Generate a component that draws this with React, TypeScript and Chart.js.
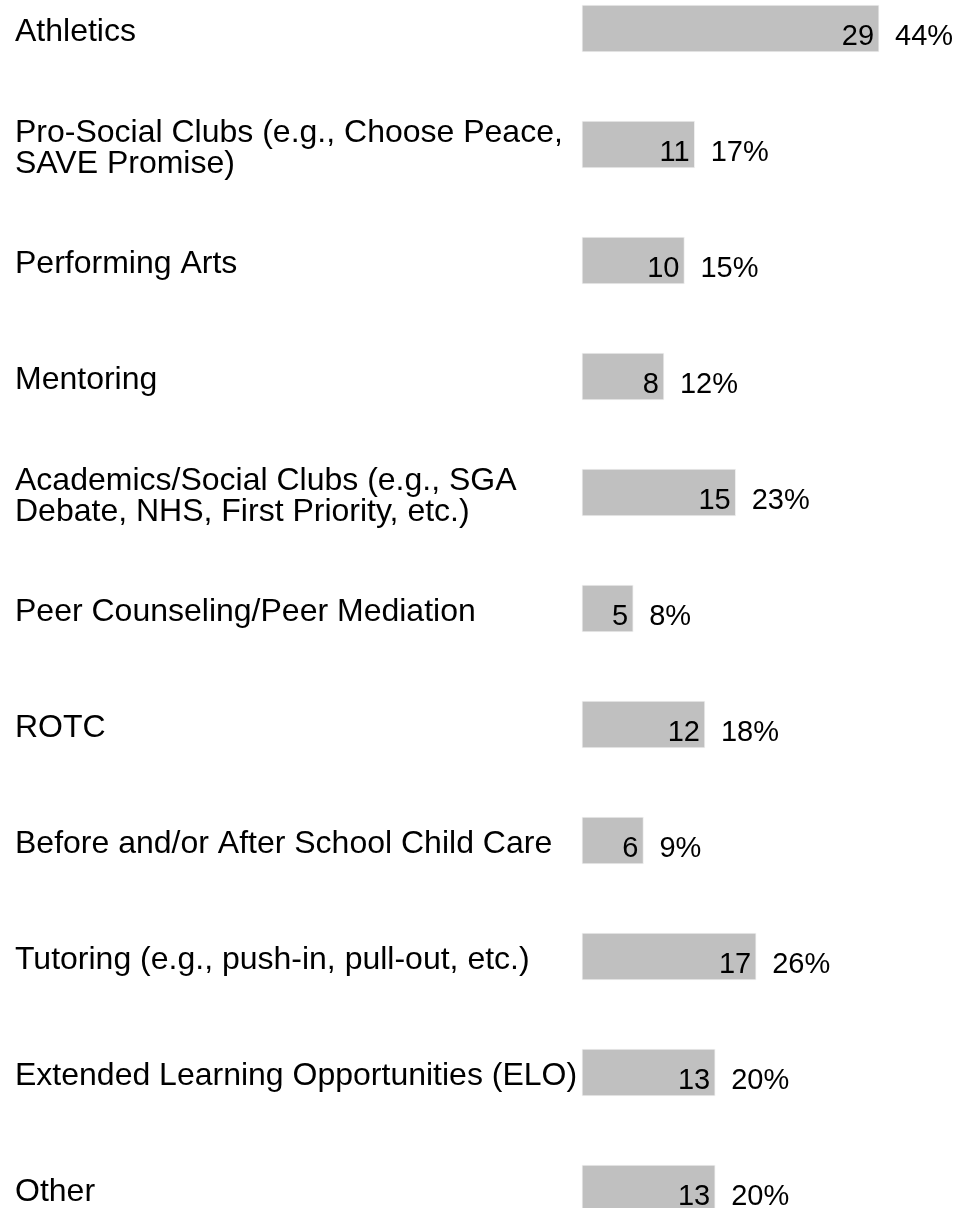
import React, { useEffect, useRef } from "react";
import { Chart, registerables } from "chart.js";

Chart.register(...registerables);

const categories: (string | string[])[] = [
  "Athletics",
  ["Pro-Social Clubs (e.g., Choose Peace,", "SAVE Promise)"],
  "Performing Arts",
  "Mentoring",
  ["Academics/Social Clubs (e.g., SGA", "Debate, NHS, First Priority, etc.)"],
  "Peer Counseling/Peer Mediation",
  "ROTC",
  "Before and/or After School Child Care",
  "Tutoring (e.g., push-in, pull-out, etc.)",
  "Extended Learning Opportunities (ELO)",
  "Other",
];

const counts: number[] = [29, 11, 10, 8, 15, 5, 12, 6, 17, 13, 13];
const percents: string[] = ["44%", "17%", "15%", "12%", "23%", "8%", "18%", "9%", "26%", "20%", "20%"];

const FONT = "'Liberation Sans', Arial, Helvetica, sans-serif";

const valueLabels = {
  id: "valueLabels",
  afterDatasetsDraw(chart: any) {
    const ctx = chart.ctx;
    const meta = chart.getDatasetMeta(0);
    ctx.save();
    ctx.font = `29px ${FONT}`;
    ctx.fillStyle = "#000";
    ctx.textBaseline = "middle";
    meta.data.forEach((bar: any, i: number) => {
      const x = bar.x;
      const y = bar.y + 8;
      ctx.textAlign = "right";
      ctx.fillText(String(counts[i]), x - 5, y);
      ctx.textAlign = "left";
      ctx.fillText(percents[i], x + 16, y);
    });
    ctx.restore();
  },
};

export default function App() {
  const ref = useRef<HTMLCanvasElement | null>(null);

  useEffect(() => {
    if (!ref.current) return;
    const chart = new Chart(ref.current, {
      type: "bar",
      data: {
        labels: categories as any,
        datasets: [
          {
            data: counts,
            backgroundColor: "#c0c0c0",
            borderColor: "#eeeeee",
            borderWidth: 1,
            borderSkipped: false,
            barThickness: 47,
            clip: false as any,
          },
        ],
      },
      options: {
        indexAxis: "y",
        animation: false,
        responsive: false,
        devicePixelRatio: 1,
        layout: { padding: { left: 15, right: 2, top: 28.5, bottom: 19.5 } },
        plugins: {
          legend: { display: false },
          tooltip: { enabled: false },
          title: { display: false },
        },
        scales: {
          x: {
            display: false,
            min: 0,
            max: 37,
            grid: { display: false },
          },
          y: {
            offset: false,
            grid: { display: false, drawTicks: false },
            border: { display: false },
            afterFit(scale: any) {
              scale.width = 567;
            },
            ticks: {
              autoSkip: false,
              crossAlign: "far",
              padding: 0,
              labelOffset: 4,
              color: "#000",
              font: { family: FONT, size: 32, lineHeight: 0.97 },
            },
          },
        },
      },
      plugins: [valueLabels],
    });
    return () => chart.destroy();
  }, []);

  return (
    <div style={{ position: "absolute", left: 0, top: 0, width: 963, height: 1208, background: "#fff" }}>
      <canvas ref={ref} width={963} height={1208} style={{ width: 963, height: 1208 }} />
    </div>
  );
}
